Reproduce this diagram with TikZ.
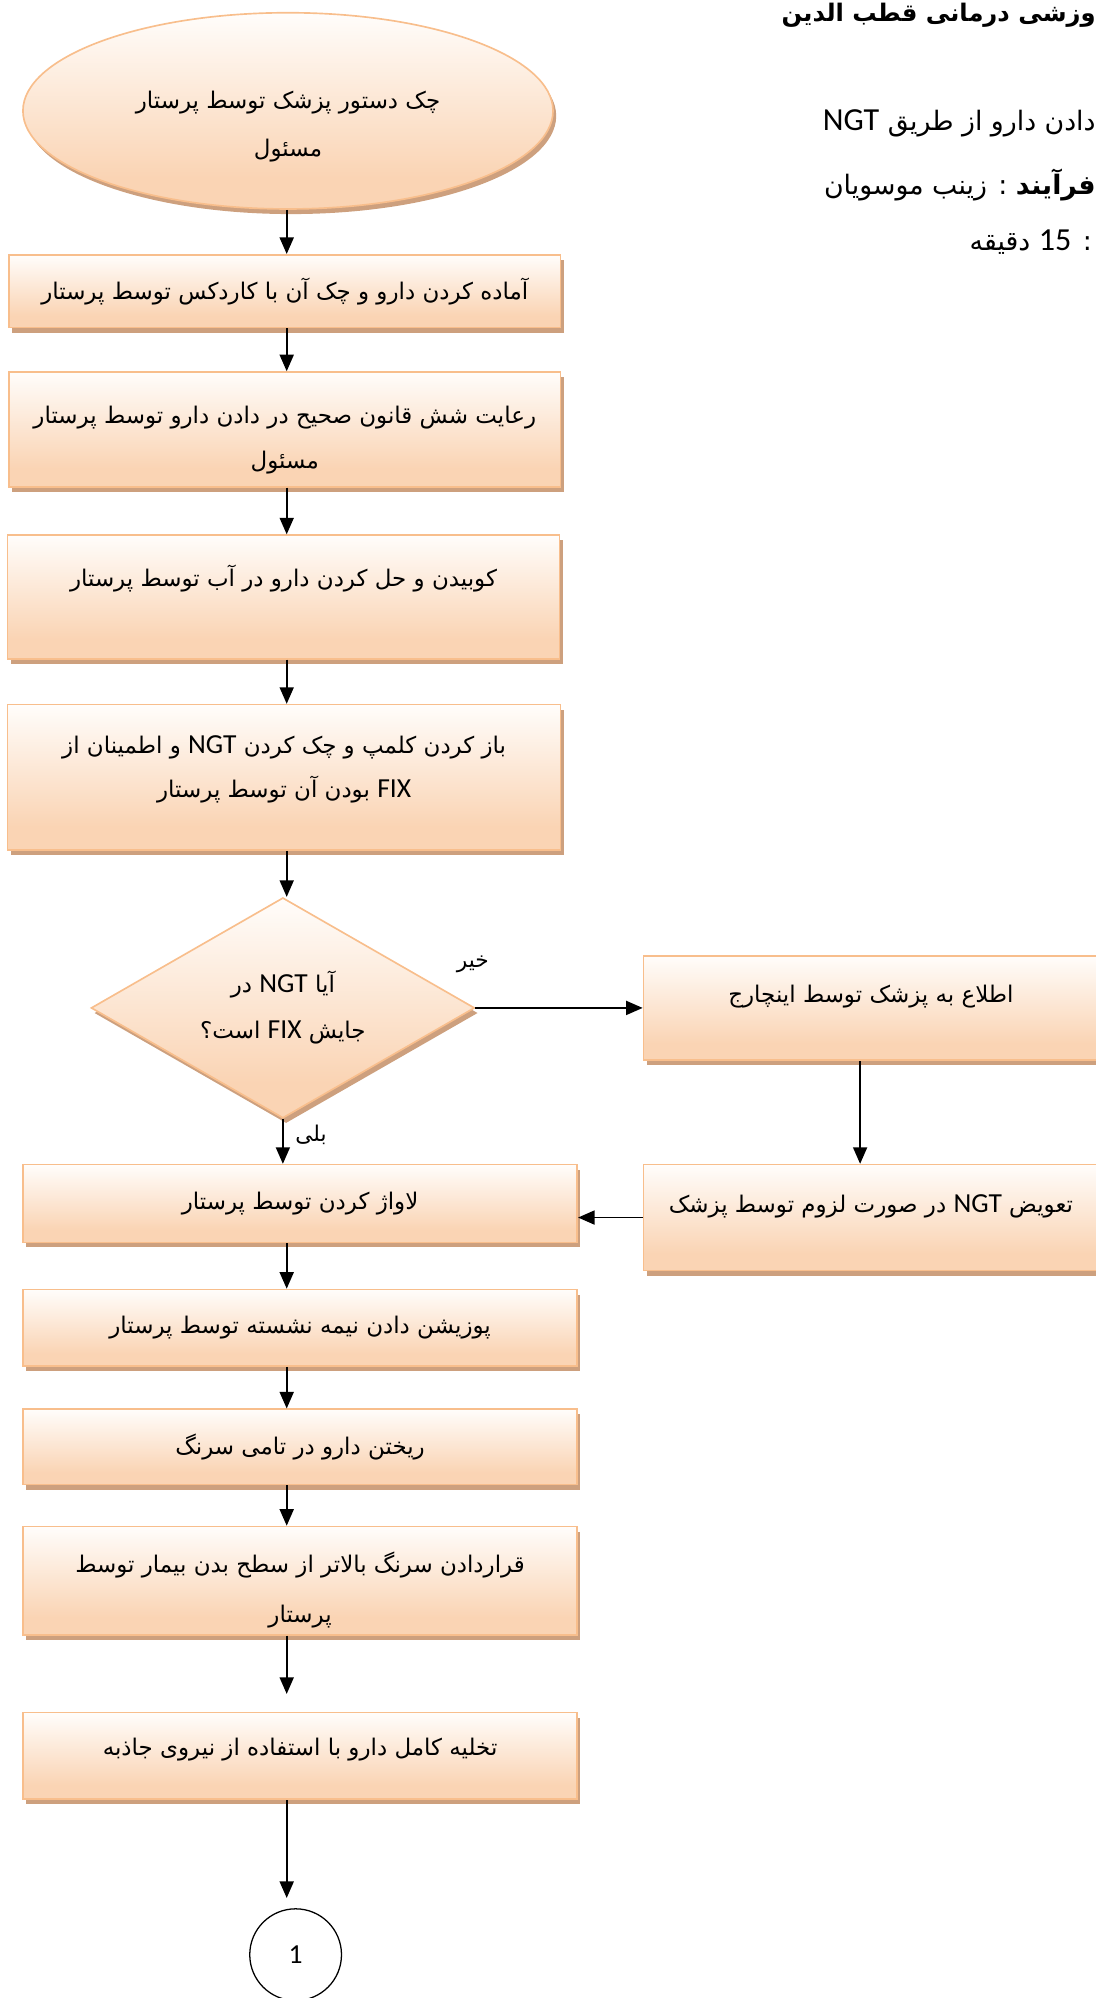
\documentclass[tikz,border=0pt]{standalone}
\usepackage{fontspec}
\TeXXeTstate=1
\newfontfamily\fa[Script=Arabic]{DejaVu Sans}
\newfontfamily\lat[Scale=1.2]{Carlito}
\usetikzlibrary{shapes.geometric,shadows,arrows.meta}
\newcommand{\rtxt}[1]{\beginR #1\endR}
\newcommand{\ltn}[1]{\beginL{\lat #1}\endL}
\definecolor{peach}{HTML}{FAD4B4}
\definecolor{topc}{HTML}{FFFDFB}
\definecolor{bord}{HTML}{F8BE8C}
\definecolor{shad}{HTML}{CDA07E}
\pgfdeclareverticalshading{peachsh}{100bp}{color(0bp)=(peach); color(25bp)=(peach); color(33bp)=(peach); color(75bp)=(topc); color(100bp)=(topc)}
\begin{document}
\begin{tikzpicture}[x=1pt,y=-1pt,
  fa/.style={font=\fa\fontsize{18}{36}\selectfont},
  shaped/.style={draw=bord, line width=1.3pt, shading=peachsh,
    general shadow={fill=shad, shadow xshift=2.5pt, shadow yshift=-4pt},
    align=center, inner sep=0pt, fa},
  stepbox/.style={rectangle, shaped},
  arr/.style={line width=1.4pt, -{Triangle[length=13pt,width=11pt]}},
  lbl/.style={inner sep=0pt, font=\fa\fontsize{17}{20}\selectfont},
  hdr/.style={anchor=east, inner sep=0pt, font=\fa\fontsize{21}{24}\selectfont},
]
\useasboundingbox (0,0) rectangle (860,1568);
\coordinate (cx) at (225,0);
\coordinate (cr) at (675,0);
% header
\node[hdr, font=\fa\bfseries\fontsize{19}{22}\selectfont] (h1) at (860,12) {\rtxt{وزشی درمانی قطب الدین}};
\node[hdr] (h2) at (860,97) {\rtxt{دادن دارو از طریق \ltn{NGT}}};
\node[hdr] (h3) at (860,145) {\rtxt{{\bfseries فرآیند} : زینب موسویان}};
\node[hdr] (h4) at (857,190) {\rtxt{: \ltn{15} دقیقه}};
% nodes
\node[ellipse, shaped, minimum width=416pt, minimum height=154pt,
  font=\fa\fontsize{18}{38}\selectfont, text height=72pt, text depth=0pt] (ell) at (226,87)
  {\rtxt{چک دستور پزشک توسط پرستار}\\\rtxt{مسئول}};
\node[stepbox, minimum width=433pt, minimum height=57pt] (b1) at (223.5,228.5)
  {\rtxt{آماده کردن دارو و چک آن با کاردکس توسط پرستار}};
\node[stepbox, minimum width=433pt, minimum height=90pt, text height=62pt, text depth=0pt] (b2) at (223.5,337)
  {\rtxt{رعایت شش قانون صحیح در دادن دارو توسط پرستار}\\\rtxt{مسئول}};
\node[stepbox, minimum width=433pt, minimum height=97pt, font=\fa\fontsize{18}{33}\selectfont] (b3) at (222.5,468.5)
  {\rtxt{کوبیدن و حل کردن دارو در آب توسط پرستار}\\\mbox{}};
\node[stepbox, minimum width=434pt, minimum height=114pt,
  font=\fa\fontsize{18}{35}\selectfont, text height=36pt, text depth=4pt] (b4) at (223,610)
  {\rtxt{باز کردن کلمپ و چک کردن \ltn{NGT} و اطمینان از}\\\rtxt{\ltn{FIX} بودن آن توسط پرستار}};
\node[diamond, shaped, minimum width=301pt, minimum height=173pt, aspect=1.74] (dia) at (222,791)
  {\rtxt{آیا \ltn{NGT} در}\\\rtxt{جایش \ltn{FIX} است؟}};
\node[stepbox, minimum width=357pt, minimum height=82pt, font=\fa\fontsize{18}{22}\selectfont] (b5) at (683.5,791)
  {\rtxt{اطلاع به پزشک توسط اینچارج}\\\mbox{}};
\node[stepbox, minimum width=357pt, minimum height=83pt, font=\fa\fontsize{18}{22}\selectfont] (b6) at (683.5,955.5)
  {\rtxt{تعویض \ltn{NGT} در صورت لزوم توسط پزشک}\\\mbox{}};
\node[stepbox, minimum width=435pt, minimum height=61pt] (b7) at (235.5,944.5)
  {\rtxt{لاواژ کردن توسط پرستار}};
\node[stepbox, minimum width=435pt, minimum height=60pt] (b8) at (235.5,1042)
  {\rtxt{پوزیشن دادن نیمه نشسته توسط پرستار}};
\node[stepbox, minimum width=435pt, minimum height=59pt] (b9) at (235.5,1135.5)
  {\rtxt{ریختن دارو در تامی سرنگ}};
\node[stepbox, minimum width=435pt, minimum height=85pt,
  font=\fa\fontsize{18}{39}\selectfont, text height=65pt, text depth=0pt] (b10) at (235.5,1240.5)
  {\rtxt{قراردادن سرنگ بالاتر از سطح بدن بیمار توسط}\\\rtxt{پرستار}};
\node[stepbox, minimum width=435pt, minimum height=68pt, text height=5pt, text depth=5pt] (b11) at (235.5,1378)
  {\rtxt{تخلیه کامل دارو با استفاده از نیروی جاذبه}};
\node[circle, draw, line width=1pt, minimum size=72pt, inner sep=0pt,
  font=\lat\fontsize{18}{20}\selectfont] (c1) at (232,1534) {1};
% labels
\node[lbl] (no) at (371,757) {\rtxt{خیر}};
\node[lbl] (yes) at (244,891) {\rtxt{بلی}};
% connectors
\draw[arr] (ell.south -| cx) -- (b1.north -| cx);
\draw[arr] (b1.south -| cx) -- (b2.north -| cx);
\draw[arr] (b2.south -| cx) -- (b3.north -| cx);
\draw[arr] (b3.south -| cx) -- (b4.north -| cx);
\draw[arr] (b4.south -| cx) -- (dia.north -| cx);
\draw[arr] (dia.east) -- (b5.west);
\draw[arr] (b5.south -| cr) -- (b6.north -| cr);
\draw[arr] (b6.west) -- (b7.east |- b6.west);
\draw[arr] (dia.south) -- (b7.north -| dia.south);
\draw[arr] (b7.south -| cx) -- (b8.north -| cx);
\draw[arr] (b8.south -| cx) -- (b9.north -| cx);
\draw[arr] (b9.south -| cx) -- (b10.north -| cx);
\draw[arr, shorten >=14pt] (b10.south -| cx) -- (b11.north -| cx);
\draw[arr, shorten >=8pt] (b11.south -| cx) -- (c1.north -| cx);
\end{tikzpicture}
\end{document}
